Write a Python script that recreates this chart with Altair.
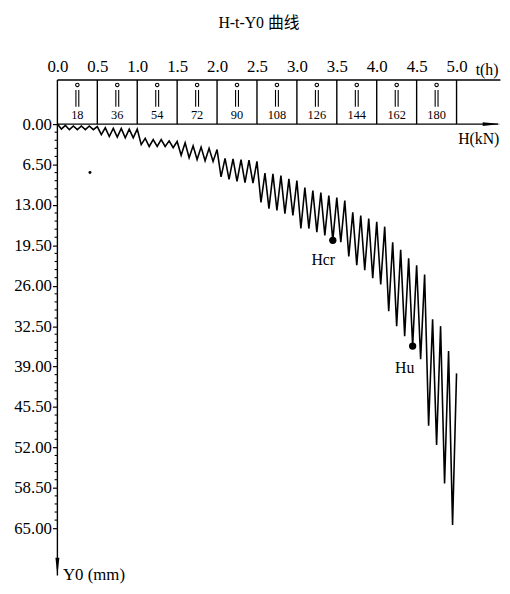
import altair as alt
import pandas as pd

# ---------------- data ----------------
title_text = "H-t-Y0  曲线"
load_levels = [18, 36, 54, 72, 90, 108, 126, 144, 162, 180]   # kN, one per 0.5 h box
time_ticks = [0.0, 0.5, 1.0, 1.5, 2.0, 2.5, 3.0, 3.5, 4.0, 4.5, 5.0]
y_ticks = [0.0, 6.5, 13.0, 19.5, 26.0, 32.5, 39.0, 45.5, 52.0, 58.5, 65.0]
minor_step = 1.3
cycle_h = 0.1   # each load/unload cycle lasts 0.1 h (5 cycles per level)

# residual (unloaded) displacement at t = 0.0, 0.1, ..., 5.0  (mm)
unloaded = [0.0,
            0.2, 0.3, 0.3, 0.3, 0.4,
            0.6, 0.7, 0.7, 0.8, 0.8,
            2.3, 2.5, 2.5, 2.7, 2.8,
            3.0, 3.5, 3.7, 3.9, 4.1,
            5.5, 5.6, 5.7, 5.8, 6.0,
            7.9, 8.0, 8.3, 8.8, 9.1,
            10.2, 10.7, 11.0, 11.5, 11.8,
            12.3, 14.2, 14.7, 15.2, 15.7,
            16.5, 19.0, 20.2, 21.6, 22.7,
            24.2, 31.4, 32.5, 36.5, 40.1]
# loaded (peak) displacement in the middle of each cycle (mm)
loaded = [0.8, 0.9, 0.9, 0.9, 0.9,
          1.7, 2.0, 2.1, 2.2, 2.2,
          3.3, 3.6, 3.6, 3.6, 3.8,
          5.0, 5.4, 5.7, 5.9, 6.0,
          8.5, 8.9, 9.2, 9.4, 9.5,
          12.6, 13.6, 13.9, 14.4, 14.7,
          16.8, 16.8, 17.4, 17.9, 18.7,
          19.0, 21.3, 22.7, 23.5, 24.8,
          25.8, 30.1, 32.5, 34.1, 35.7,
          37.8, 48.5, 51.6, 57.8, 64.5]
hcr_cycle = 34
hu_cycle = 44
stray_dot = {"t": 0.408, "Y": 7.8}

# ---------------- tables ----------------
rows = []
seq = 0
for i, u in enumerate(unloaded):
    rows.append({"t": i * cycle_h, "Y": u, "seq": seq}); seq += 1
    if i < len(loaded):
        rows.append({"t": i * cycle_h + cycle_h / 2, "Y": loaded[i], "seq": seq}); seq += 1
line_df = pd.DataFrame(rows)

marks_df = pd.DataFrame([
    {"t": hcr_cycle * cycle_h + cycle_h / 2, "Y": loaded[hcr_cycle], "label": "Hcr"},
    {"t": hu_cycle * cycle_h + cycle_h / 2, "Y": loaded[hu_cycle], "label": "Hu"},
])
mark_labels_df = pd.DataFrame([
    {"t": marks_df.t[0] - 0.12, "Y": loaded[hcr_cycle] + 3.2, "label": "Hcr"},
    {"t": marks_df.t[1] - 0.10, "Y": loaded[hu_cycle] + 3.5, "label": "Hu"},
])

box_top = -7.1
box_centers = [0.25 + 0.5 * k for k in range(len(load_levels))]
frame_rules = [
    {"t": 0.0, "t2": 5.55, "Y": box_top, "Y2": box_top},   # box row top
    {"t": 0.0, "t2": 5.52, "Y": 0.0, "Y2": 0.0},           # H axis
    {"t": 0.0, "t2": 0.0, "Y": box_top, "Y2": 72.6},       # Y0 axis
] + [{"t": tt, "t2": tt, "Y": box_top, "Y2": 0.0} for tt in time_ticks[1:]]
frame_df = pd.DataFrame(frame_rules)

minor_df = pd.DataFrame([{"t": -0.035, "t2": 0.0, "Y": k * minor_step, "Y2": k * minor_step}
                         for k in range(1, 50) if k % 5 != 0])

icon_bars_df = pd.DataFrame([{"t": c + d, "t2": c + d, "Y": -5.5, "Y2": -2.8}
                             for c in box_centers for d in (-0.018, 0.018)])
icon_heads_df = pd.DataFrame([{"t": c, "Y": -6.3} for c in box_centers])
level_text_df = pd.DataFrame([{"t": c, "Y": -1.5, "label": str(v)}
                              for c, v in zip(box_centers, load_levels)])

arrows_df = pd.DataFrame([
    {"t": 5.44, "Y": 0.0, "shape": "M-1,-0.22L1,0L-1,0.22Z"},
    {"t": 0.0, "Y": 71.2, "shape": "M-0.22,-1L0,1L0.22,-1Z"},
])

side_text_df = pd.DataFrame([
    {"t": 2.525, "Y": -16.2, "label": title_text, "size": 16, "align": "center"},
    {"t": 5.24, "Y": -8.7, "label": "t(h)", "size": 16, "align": "left"},
    {"t": 5.02, "Y": 2.4, "label": "H(kN)", "size": 16, "align": "left"},
    {"t": 0.07, "Y": 72.6, "label": "Y0 (mm)", "size": 17, "align": "left"},
])

# ---------------- encodings ----------------
FONT = "Liberation Serif"
xs = alt.Scale(domain=[0, 5], nice=False, zero=False)
ys = alt.Scale(domain=[0, 65], nice=False, zero=False, reverse=True)
x_axis = alt.Axis(orient="top", values=time_ticks, format=".1f", tickSize=0, domain=False,
                  grid=False, labelPadding=2, offset=47, labelFont=FONT, labelFontSize=17,
                  labelColor="black", title=None, labelOverlap=False, labelFlush=False)
y_axis = alt.Axis(orient="left", values=y_ticks, format=".2f", tickSize=5, tickWidth=1.2,
                  tickColor="black", domain=False, grid=False, labelPadding=1, labelFont=FONT,
                  labelFontSize=17, labelColor="black", title=None, labelOverlap=False,
                  labelFlush=False)


def X(f="t"):
    return alt.X(f, type="quantitative", scale=xs, axis=x_axis)


def Y(f="Y"):
    return alt.Y(f, type="quantitative", scale=ys, axis=y_axis)


curve = alt.Chart(line_df).mark_line(color="black", strokeWidth=1.6, strokeJoin="miter").encode(
    x=X(), y=Y(), order=alt.Order("seq:Q"))

frame = alt.Chart(frame_df).mark_rule(color="black", strokeWidth=1.4).encode(
    x=X(), x2="t2", y=Y(), y2="Y2")

minor = alt.Chart(minor_df).mark_rule(color="black", strokeWidth=1.1).encode(
    x=X(), x2="t2", y=Y(), y2="Y2")

icon_bars = alt.Chart(icon_bars_df).mark_rule(color="black", strokeWidth=1.1).encode(
    x=X(), x2="t2", y=Y(), y2="Y2")

icon_heads = alt.Chart(icon_heads_df).mark_point(shape="circle", filled=False, color="black",
                                                  size=12, strokeWidth=1.1, opacity=1).encode(
    x=X(), y=Y())

level_text = alt.Chart(level_text_df).mark_text(font=FONT, fontSize=12.5, color="black",
                                                baseline="middle", align="center").encode(
    x=X(), y=Y(), text="label:N")

arrows = alt.Chart(arrows_df).mark_point(filled=True, color="black", size=330, opacity=1).encode(
    x=X(), y=Y(), shape=alt.Shape("shape:N", scale=None, legend=None))

dots = alt.Chart(marks_df).mark_circle(color="black", size=55, opacity=1).encode(x=X(), y=Y())

dot_labels = alt.Chart(mark_labels_df).mark_text(font=FONT, fontSize=16, color="black",
                                                 baseline="middle", align="center").encode(
    x=X(), y=Y(), text="label:N")

stray = alt.Chart(pd.DataFrame([stray_dot])).mark_circle(color="black", size=9, opacity=1).encode(
    x=X(), y=Y())

texts = []
for _, r in side_text_df.iterrows():
    texts.append(alt.Chart(pd.DataFrame([r.to_dict()])).mark_text(
        font=FONT + ", Noto Sans CJK SC", fontSize=int(r["size"]), color="black",
        baseline="middle", align=r["align"]).encode(x=X(), y=Y(), text="label:N"))

chart = alt.layer(frame, minor, icon_bars, icon_heads, level_text, curve, arrows, dots,
                  dot_labels, stray, *texts).properties(
    width=404, height=409,
    padding={"left": 50, "top": 114, "right": 46, "bottom": 55},
    autosize=alt.AutoSizeParams(type="none"),
).configure_view(strokeWidth=0)

chart.save("out.html", embed_options={"renderer": "svg", "actions": False})
